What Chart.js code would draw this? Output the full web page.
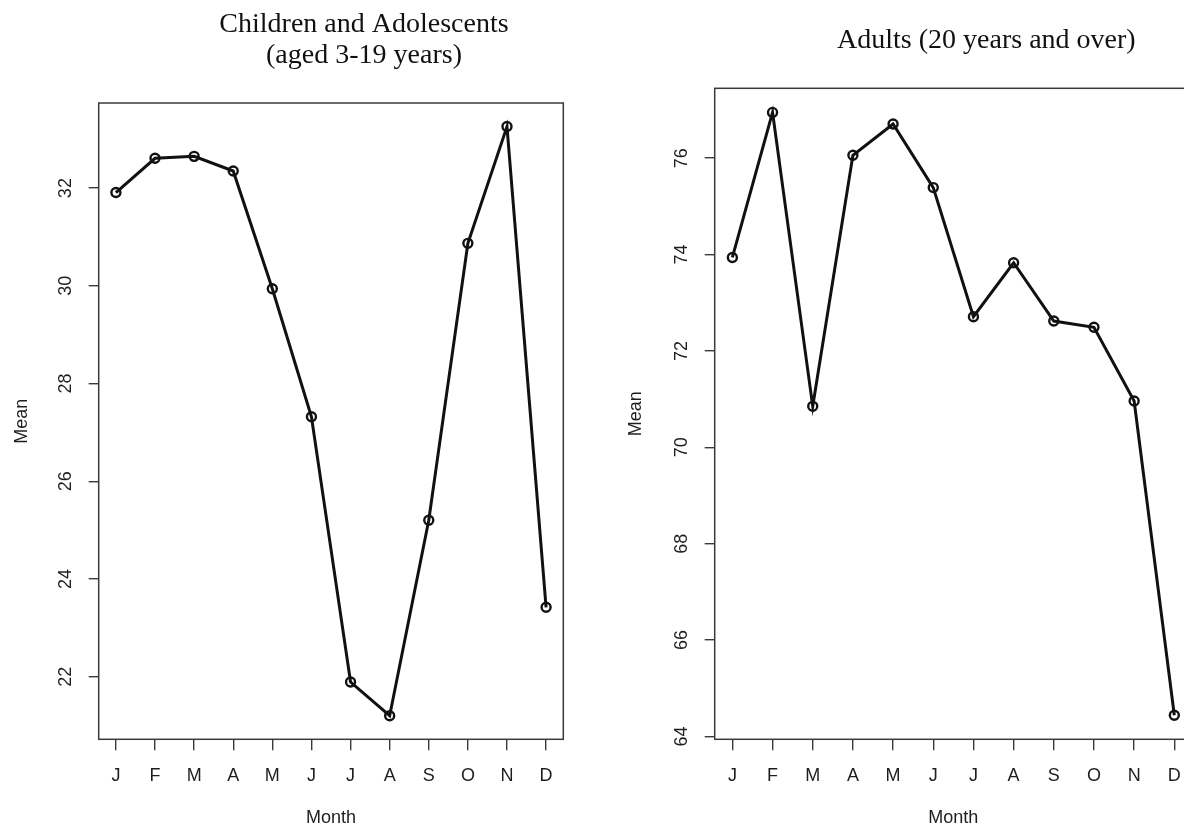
<!DOCTYPE html>
<html>
<head>
<meta charset="utf-8">
<script src="https://cdn.jsdelivr.net/npm/chart.js@4.4.1/dist/chart.umd.min.js"></script>
<style>
  html, body { margin: 0; padding: 0; background: #fff; overflow: hidden; }
  body { width: 1184px; height: 829px; position: relative; }
  .panel { position: absolute; top: 0; height: 829px; width: 600px; }
  #leftPanel { left: 0; }
  #rightPanel { left: 600px; }
</style>
</head>
<body>
<div class="panel" id="leftPanel"><canvas id="childChart"></canvas></div>
<div class="panel" id="rightPanel"><canvas id="adultChart"></canvas></div>
<script>
// data
const months = ["J", "F", "M", "A", "M", "J", "J", "A", "S", "O", "N", "D"];
const childMeans = [31.91, 32.61, 32.65, 32.35, 29.94, 27.32, 21.89, 21.2, 25.2, 30.87, 33.26, 23.42];
const adultMeans = [73.94, 76.95, 70.85, 76.06, 76.71, 75.39, 72.71, 73.83, 72.62, 72.49, 70.96, 64.44];
const childTicks = [22, 24, 26, 28, 30, 32];
const adultTicks = [64, 66, 68, 70, 72, 74, 76];
const childTitle = ["Children and Adolescents", "(aged 3-19 years)"];
const adultTitle = ["Adults (20 years and over)"];

const axisColor = "#3a3a3a";
const textColor = "#1e1e1e";
const sansFont = "'Liberation Sans', Arial, sans-serif";

// R style: axis range padded 4% each side
function padRange(values) {
    const lo = Math.min(...values), hi = Math.max(...values);
    const d = (hi - lo) * 0.04;
    return [lo - d, hi + d];
}

// frame around the plot region plus a serif title above it
const framePlugin = {
    id: "frameAndTitle",
    afterDraw(chart, args, opts) {
        const ctx = chart.ctx;
        const a = chart.chartArea;
        ctx.save();
        ctx.strokeStyle = axisColor;
        ctx.lineWidth = 1.5;
        ctx.strokeRect(a.left, a.top, a.right - a.left, a.bottom - a.top);
        ctx.fillStyle = "#111";
        ctx.font = "28px 'Liberation Serif', 'Times New Roman', serif";
        ctx.textAlign = "center";
        ctx.textBaseline = "alphabetic";
        const cx = (a.left + a.right) / 2 + opts.shift;
        const lines = opts.lines;
        lines.forEach(function (line, i) {
            const y = a.top - opts.gap - (lines.length - 1 - i) * 31;
            ctx.fillText(line, cx, y);
        });
        ctx.restore();
    }
};

function makeChart(canvasId, values, ticks, title, pad, yWidth, meanPad) {
    const xr = [0.56, 12.44];
    const yr = padRange(values);
    return new Chart(document.getElementById(canvasId), {
        type: "line",
        data: {
            datasets: [{
                data: values.map(function (v, i) { return { x: i + 1, y: v }; }),
                borderColor: "#111",
                borderWidth: 3,
                pointRadius: 4.5,
                pointBorderWidth: 2.4,
                pointBackgroundColor: "rgba(0,0,0,0)",
                pointBorderColor: "#111",
                tension: 0
            }]
        },
        plugins: [framePlugin],
        options: {
            responsive: true,
            maintainAspectRatio: false,
            animation: false,
            events: [],
            layout: { padding: pad },
            plugins: {
                legend: { display: false },
                tooltip: { enabled: false },
                frameAndTitle: { lines: title, shift: 33, gap: 40 }
            },
            scales: {
                x: {
                    type: "linear",
                    min: xr[0],
                    max: xr[1],
                    afterBuildTicks: function (scale) {
                        scale.ticks = months.map(function (m, i) { return { value: i + 1 }; });
                    },
                    afterFit: function (scale) { scale.height = 829 - 739.3 - pad.bottom; },
                    grid: { drawOnChartArea: false, drawTicks: true, tickLength: 11, color: axisColor, lineWidth: 1.4 },
                    border: { display: false },
                    ticks: {
                        autoSkip: false,
                        maxRotation: 0,
                        padding: 15,
                        color: textColor,
                        font: { family: sansFont, size: 18 },
                        callback: function (v) { return months[v - 1]; }
                    },
                    title: {
                        display: true,
                        text: "Month",
                        color: textColor,
                        font: { family: sansFont, size: 18 },
                        padding: { top: 0, bottom: 0 }
                    }
                },
                y: {
                    min: yr[0],
                    max: yr[1],
                    afterBuildTicks: function (scale) {
                        scale.ticks = ticks.map(function (t) { return { value: t }; });
                    },
                    afterFit: function (scale) { scale.width = yWidth; },
                    grid: { drawOnChartArea: false, drawTicks: true, tickLength: 10, color: axisColor, lineWidth: 1.4 },
                    border: { display: false },
                    ticks: {
                        minRotation: 90,
                        maxRotation: 90,
                        crossAlign: "center",
                        padding: 13,
                        color: textColor,
                        font: { family: sansFont, size: 18 }
                    },
                    title: {
                        display: true,
                        text: "Mean",
                        color: textColor,
                        font: { family: sansFont, size: 18 },
                        padding: { top: meanPad, bottom: 0 }
                    }
                }
            }
        }
    });
}

makeChart("childChart", childMeans, childTicks, childTitle,
    { left: 0, right: 36.7, top: 103, bottom: 0 }, 98.7, 11);
makeChart("adultChart", adultMeans, adultTicks, adultTitle,
    { left: 0, right: 8, top: 88.3, bottom: 0 }, 114.7, 25);
</script>
</body>
</html>
